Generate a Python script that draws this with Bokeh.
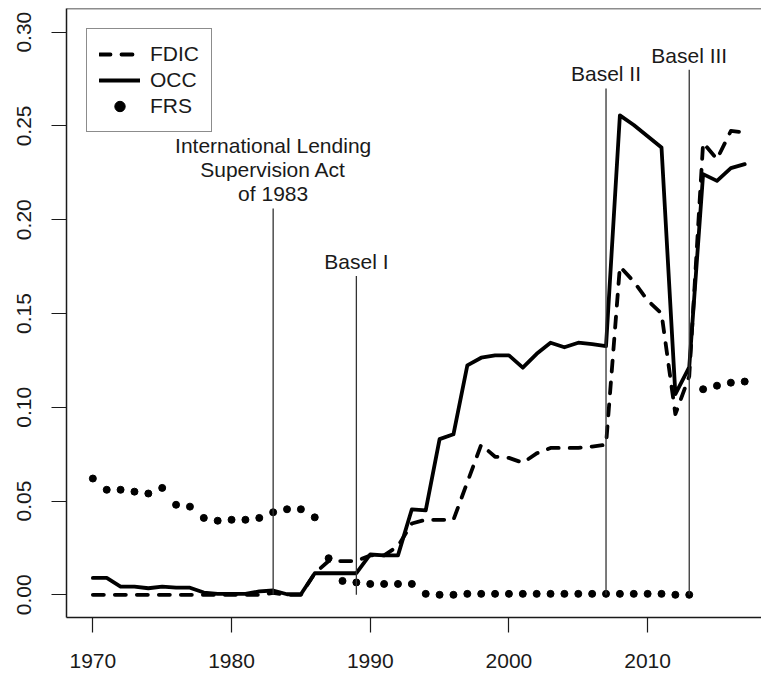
from bokeh.plotting import figure
from bokeh.models import FixedTicker, Legend, LegendItem, Span, ColumnDataSource
from bokeh.core.properties import value
from bokeh.embed import file_html
from bokeh.resources import INLINE

# ---------------- data ----------------
years = list(range(1970, 2018))

fdic = [0.000, 0.000, 0.000, 0.000, 0.000, 0.000, 0.000, 0.000, 0.000, 0.000,   # 1970-79
        0.000, 0.000, 0.000, 0.001, 0.000, 0.000, 0.0115, 0.018, 0.018, 0.018,  # 1980-89
        0.021, 0.021, 0.026, 0.038, 0.040, 0.040, 0.040, 0.060, 0.080, 0.0736,  # 1990-99
        0.073, 0.0704, 0.0754, 0.0783, 0.0783, 0.0783, 0.079, 0.080, 0.175, 0.167,  # 2000-09
        0.157, 0.150, 0.0963, 0.1165, 0.241, 0.2323, 0.2473, 0.2465]           # 2010-17

occ = [0.009, 0.009, 0.0044, 0.0044, 0.0035, 0.0044, 0.0038, 0.0038, 0.0012, 0.0005,
       0.0005, 0.0005, 0.0018, 0.0023, 0.0003, 0.0003, 0.0115, 0.0115, 0.0115, 0.0115,
       0.0215, 0.021, 0.021, 0.0456, 0.045, 0.083, 0.0856, 0.1223, 0.1264, 0.1277,
       0.1277, 0.1211, 0.1285, 0.1344, 0.132, 0.1344, 0.1337, 0.1326, 0.2556, 0.2505,
       0.2445, 0.2385, 0.107, 0.1214, 0.2243, 0.2207, 0.2275, 0.2296]

frs = [0.062, 0.056, 0.056, 0.055, 0.054, 0.057, 0.048, 0.047, 0.041, 0.0395,
       0.040, 0.040, 0.041, 0.044, 0.0456, 0.0456, 0.0413, 0.0195, 0.0074, 0.0066,
       0.0058, 0.0058, 0.0058, 0.0058, 0.0005, 0.0, 0.0, 0.0005, 0.0005, 0.0005,
       0.0005, 0.0005, 0.0005, 0.0005, 0.0005, 0.0005, 0.0005, 0.0005, 0.0005, 0.0005,
       0.0005, 0.0005, 0.0, 0.0, 0.1096, 0.1115, 0.1131, 0.1137]

event_years = [1983, 1989, 2007, 2013]
event_tops = [0.206, 0.17, 0.27, 0.28]
event_bottoms = [0.0, 0.0, 0.0, 0.0]
event_labels = ["International Lending\nSupervision Act\nof 1983", "Basel I", "Basel II", "Basel III"]

x_ticks = [1970, 1980, 1990, 2000, 2010]
y_ticks = [0.00, 0.05, 0.10, 0.15, 0.20, 0.25, 0.30]
y_tick_labels = ["0.00", "0.05", "0.10", "0.15", "0.20", "0.25", "0.30"]

# ---------------- figure ----------------
FONT = "Liberation Sans"
FS = "21px"
INK = "#1a1a1a"

p = figure(width=761, height=679, output_backend="svg", toolbar_location=None,
           x_range=(1968.10, 2018.21), y_range=(-0.0121, 0.3126),
           min_border_left=66, min_border_right=0, min_border_top=8, min_border_bottom=62)
p.outline_line_color = None
p.grid.visible = False
p.background_fill_color = "white"

for ax in (p.xaxis[0], p.yaxis[0]):
    ax.axis_line_color = INK
    ax.axis_line_width = 1.5
    ax.major_tick_line_color = INK
    ax.major_tick_line_width = 1.2
    ax.major_tick_out = 15
    ax.major_tick_in = 0
    ax.minor_tick_line_color = None
    ax.major_label_text_font = FONT
    ax.major_label_text_font_size = FS
    ax.major_label_text_color = INK

p.xaxis.ticker = FixedTicker(ticks=x_ticks)
p.xaxis.major_label_standoff = 21
p.yaxis.ticker = FixedTicker(ticks=y_ticks)
p.yaxis.major_label_overrides = {t: s for t, s in zip(y_ticks, y_tick_labels)}
p.yaxis.major_label_orientation = "vertical"
p.yaxis.major_label_standoff = 20

top_border = Span(location=p.y_range.end, dimension="width", line_color=INK, line_width=1.5)
p.add_layout(top_border)

src = ColumnDataSource(dict(year=years, fdic=fdic, occ=occ, frs=frs))

r_fdic = p.line("year", "fdic", source=src, line_color="black", line_width=3.8,
                line_dash="11 11", line_cap="round", line_join="round")
r_occ = p.line("year", "occ", source=src, line_color="black", line_width=3.8,
               line_join="round", line_cap="round")
r_frs = p.scatter("year", "frs", source=src, size=7, marker="circle",
                  fill_color="black", line_color="black")

ev = ColumnDataSource(dict(x=event_years, top=event_tops, bottom=event_bottoms, label=event_labels))
p.segment(x0="x", y0="bottom", x1="x", y1="top", source=ev, line_color="#333333", line_width=1.3)
p.text(x="x", y="top", text="label", source=ev, text_align="center", text_baseline="bottom",
       y_offset=-3, text_font=value(FONT), text_font_size=FS, text_color=INK,
       text_line_height=1.05)

legend = Legend(items=[LegendItem(label="FDIC", renderers=[r_fdic]),
                       LegendItem(label="OCC", renderers=[r_occ]),
                       LegendItem(label="FRS", renderers=[r_frs])],
                location="top_left", margin=20, padding=12, spacing=0,
                glyph_width=41, glyph_height=26, label_height=26, label_standoff=10,
                label_text_font=FONT, label_text_font_size=FS, label_text_color=INK,
                border_line_color=INK, border_line_width=1.2, background_fill_alpha=1.0)
p.add_layout(legend)

open("out.html", "w").write(file_html(p, INLINE))
